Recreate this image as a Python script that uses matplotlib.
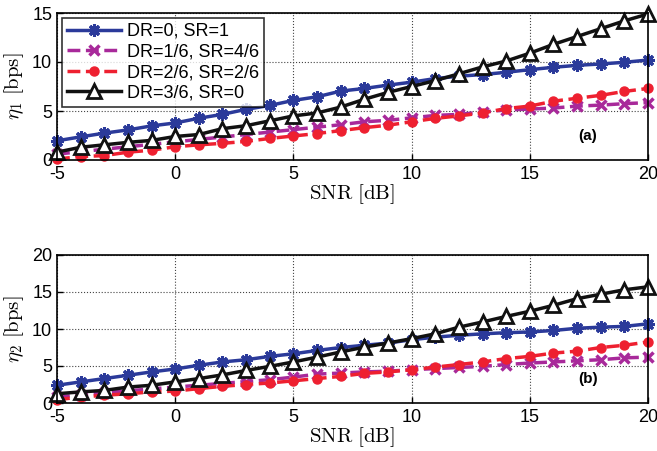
import matplotlib
matplotlib.use("Agg")
import matplotlib.pyplot as plt
import numpy as np

plt.rcParams['mathtext.fontset'] = 'cm'
plt.rcParams['font.family'] = ['Liberation Sans', 'DejaVu Sans']
plt.rcParams['axes.unicode_minus'] = False

snr = list(range(-5, 21))

labels = ['DR=0, SR=1', 'DR=1/6, SR=4/6', 'DR=2/6, SR=2/6', 'DR=3/6, SR=0']

eta1_dr0 = [1.96, 2.36, 2.74, 3.07, 3.48, 3.78, 4.26, 4.66, 5.17, 5.57, 6.08, 6.45,
            7.03, 7.3, 7.64, 7.94, 8.31, 8.55, 8.72, 8.95, 9.22, 9.46, 9.66, 9.8, 9.97, 10.2]
eta1_dr16 = [0.6, 0.85, 1.1, 1.35, 1.6, 1.85, 2.1, 2.35, 2.6, 2.85, 3.1, 3.35,
             3.6, 3.9, 4.05, 4.3, 4.55, 4.65, 4.9, 5.1, 5.2, 5.3, 5.5, 5.6, 5.75, 5.85]
eta1_dr26 = [0.1, 0.35, 0.45, 0.8, 1.0, 1.35, 1.55, 1.7, 1.9, 2.2, 2.45, 2.7,
             3.0, 3.3, 3.55, 3.9, 4.25, 4.5, 4.8, 5.25, 5.5, 6.0, 6.3, 6.6, 7.0, 7.3]
eta1_dr36 = [0.8, 1.3, 1.55, 1.8, 2.0, 2.4, 2.6, 3.2, 3.5, 4.0, 4.5, 4.8,
             5.4, 6.2, 6.9, 7.5, 8.1, 8.8, 9.5, 10.1, 10.9, 11.8, 12.6, 13.4, 14.2, 14.9]

eta2_dr0 = [2.4, 2.85, 3.3, 3.75, 4.2, 4.6, 5.1, 5.55, 5.85, 6.3, 6.65, 7.1,
            7.5, 7.8, 8.1, 8.55, 8.9, 9.15, 9.35, 9.5, 9.6, 9.8, 10.1, 10.25, 10.35, 10.7]
eta2_dr16 = [0.8, 1.1, 1.4, 1.65, 1.9, 2.15, 2.4, 2.65, 2.9, 3.15, 3.5, 3.9,
             4.05, 4.2, 4.3, 4.5, 4.65, 4.8, 4.95, 5.2, 5.4, 5.55, 5.7, 5.85, 6.1, 6.2]
eta2_dr26 = [0.45, 0.8, 1.05, 1.25, 1.5, 1.6, 1.95, 2.25, 2.5, 2.7, 3.0, 3.3,
             3.6, 4.0, 4.2, 4.5, 4.85, 5.2, 5.55, 6.0, 6.3, 6.75, 7.0, 7.5, 7.8, 8.25]
eta2_dr36 = [1.25, 1.5, 1.7, 2.15, 2.4, 2.85, 3.3, 3.8, 4.4, 4.95, 5.55, 6.2,
             6.9, 7.55, 8.1, 8.7, 9.35, 10.25, 10.95, 11.7, 12.4, 13.2, 14.1, 14.7, 15.3, 15.7]

styles = [
    dict(color='#2b3a9a', ls='-', marker=(8, 2, 0), ms=9, mew=2.2, lw=2.5),
    dict(color='#a8299a', ls='--', marker='x', ms=7, mew=2.5, lw=2.5),
    dict(color='#ee2030', ls='--', marker='o', ms=6.5, mew=1, lw=2.5),
    dict(color='#111111', ls='-', marker='^', ms=10, mew=2, lw=2.5, mfc='white'),
]

fig = plt.figure(figsize=(6.57, 4.51), dpi=100)
ax1 = fig.add_axes([57/657, 1-160/451, 591/657, 147/451])
ax2 = fig.add_axes([57/657, 1-403/451, 591/657, 148/451])

for ax, data, yl, ylim, yt, tag in [
    (ax1, [eta1_dr0, eta1_dr16, eta1_dr26, eta1_dr36], r'$\eta_1\ [\mathrm{bps}]$', 15, [0, 5, 10, 15], '(a)'),
    (ax2, [eta2_dr0, eta2_dr16, eta2_dr26, eta2_dr36], r'$\eta_2\ [\mathrm{bps}]$', 20, [0, 5, 10, 15, 20], '(b)'),
]:
    for d, st, lab in zip(data, styles, labels):
        ax.plot(snr, d, label=lab, clip_on=False, **st)
    ax.set_xlim(-5, 20)
    ax.set_ylim(0, ylim)
    ax.set_xticks([-5, 0, 5, 10, 15, 20])
    ax.set_yticks(yt)
    ax.grid(True, ls=':', color='#444444', lw=0.8)
    ax.tick_params(labelsize=13, direction='in', length=4, width=1)
    ax.tick_params(axis='x', pad=4)
    for s in ax.spines.values():
        s.set_linewidth(1.2)
    ax.set_xlabel(r'$\mathrm{SNR}\ [\mathrm{dB}]$', fontsize=15, labelpad=0)
    ax.set_ylabel(yl, fontsize=15, labelpad=4)
    ax.text(17.45, 0.16 * ylim, tag, fontsize=11, fontweight='bold', ha='center', va='center')

leg = ax1.legend(loc='upper left', fontsize=13, frameon=True, fancybox=False,
                 edgecolor='black', borderpad=0.3, labelspacing=0.2, handlelength=3.0,
                 handletextpad=0.3, borderaxespad=0.25)
leg.get_frame().set_linewidth(1.2)

fig.savefig('out.png', dpi=100)
